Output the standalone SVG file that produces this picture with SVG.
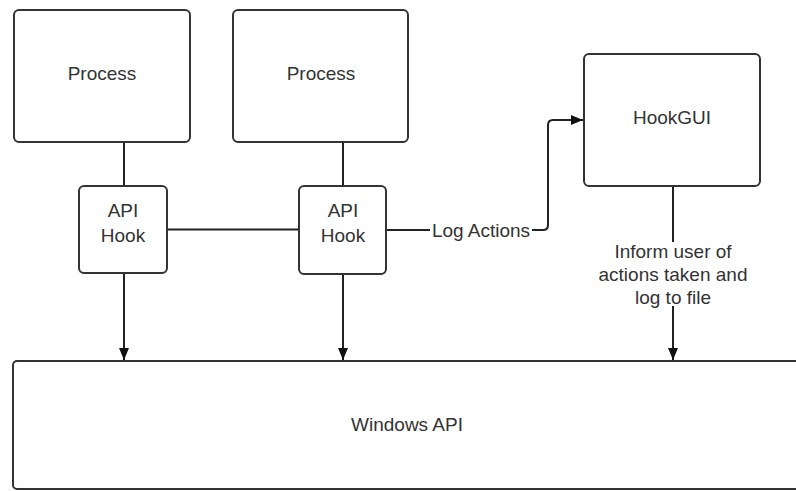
<svg xmlns="http://www.w3.org/2000/svg" width="796" height="491" viewBox="0 0 796 491">
<style>
.box{fill:#fff;stroke:#333;stroke-width:2}
.ln{fill:none;stroke:#222;stroke-width:2}
text{font-family:"Liberation Sans",Arial,sans-serif;font-size:19px;fill:#333;text-anchor:middle}
</style>
<defs>
<marker id="ah" markerWidth="12" markerHeight="10" refX="12" refY="5" orient="auto" markerUnits="userSpaceOnUse">
<path d="M0,0 L12,5 L0,10 Z" fill="#111"/>
</marker>
</defs>
<rect width="796" height="491" fill="#fff"/>
<g id="connectors">
<path class="ln" d="M124,142 V186"/>
<path class="ln" d="M343,142 V186"/>
<path class="ln" d="M167,229.5 H299"/>
<path class="ln" d="M124,273 V360" marker-end="url(#ah)"/>
<path class="ln" d="M343,274 V360" marker-end="url(#ah)"/>
<path class="ln" d="M386,230 H430"/>
<path class="ln" d="M532,230 H543 Q548,230 548,225 V125 Q548,120 553,120 H583" marker-end="url(#ah)"/>
<text x="481" y="237">Log Actions</text>
<path class="ln" d="M673,186 V242"/>
<path class="ln" d="M673,306 V360" marker-end="url(#ah)"/>
<text x="673" y="258">Inform user of</text>
<text x="673" y="281">actions taken and</text>
<text x="673" y="304">log to file</text>
</g>
<g id="process1">
<rect class="box" x="14" y="10" width="176" height="132" rx="5"/>
<text x="102" y="80">Process</text>
</g>
<g id="process2">
<rect class="box" x="233" y="10" width="175" height="132" rx="5"/>
<text x="321" y="80">Process</text>
</g>
<g id="hook1">
<rect class="box" x="79" y="186" width="88" height="87" rx="5"/>
<text x="123" y="217">API</text>
<text x="123" y="242">Hook</text>
</g>
<g id="hook2">
<rect class="box" x="299" y="186" width="87" height="88" rx="5"/>
<text x="343" y="217">API</text>
<text x="343" y="242">Hook</text>
</g>
<g id="hookgui">
<rect class="box" x="584" y="54" width="176" height="132" rx="5"/>
<text x="672" y="124">HookGUI</text>
</g>
<g id="winapi">
<rect class="box" x="13" y="361" width="800" height="128" rx="4"/>
<text x="407" y="431">Windows API</text>
</g>
</svg>
